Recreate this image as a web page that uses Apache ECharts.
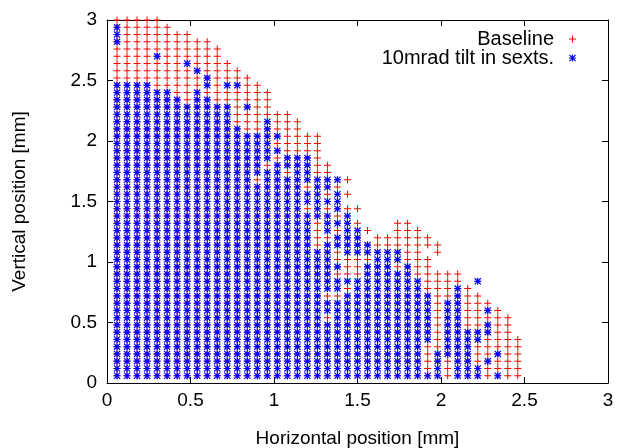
<!DOCTYPE html>
<html>
<head>
<meta charset="utf-8">
<script src="https://cdn.jsdelivr.net/npm/echarts@6/dist/echarts.min.js"></script>
<style>
  html, body { margin: 0; padding: 0; background: #fff; }
  #chart { width: 618px; height: 448px; }
</style>
</head>
<body>
<div id="chart"></div>
<script>
// scan grid (mm)
const xCols = [0.06, 0.12, 0.18, 0.24, 0.30, 0.36, 0.42, 0.48, 0.54, 0.60,
  0.66, 0.72, 0.78, 0.84, 0.90, 0.96, 1.02, 1.08, 1.14, 1.20,
  1.26, 1.32, 1.38, 1.44, 1.50, 1.56, 1.62, 1.68, 1.74, 1.80,
  1.86, 1.92, 1.98, 2.04, 2.10, 2.16, 2.22, 2.28, 2.34, 2.40, 2.46];
const yRows = [0.06, 0.12, 0.18, 0.24, 0.30, 0.36, 0.42, 0.48, 0.54, 0.60,
  0.66, 0.72, 0.78, 0.84, 0.90, 0.96, 1.02, 1.08, 1.14, 1.20,
  1.26, 1.32, 1.38, 1.44, 1.50, 1.56, 1.62, 1.68, 1.74, 1.80,
  1.86, 1.92, 1.98, 2.04, 2.10, 2.16, 2.22, 2.28, 2.34, 2.40,
  2.46, 2.52, 2.58, 2.64, 2.70, 2.76, 2.82, 2.88, 2.94, 3.00];

// surviving rows per column, as [firstRow, lastRow] runs (1 = lowest row)
const baselineRuns = [
  [[1, 50]], [[1, 50]], [[1, 50]], [[1, 50]], [[1, 50]],
  [[1, 49]], [[1, 48]], [[1, 48]], [[1, 47]], [[1, 47]],
  [[1, 46]], [[1, 44]], [[1, 43]], [[1, 42]], [[1, 41]],
  [[1, 40]], [[1, 37]], [[1, 37]], [[1, 36]], [[1, 34]],
  [[1, 34]], [[1, 30]], [[1, 27]], [[1, 24], [26, 26], [28, 28]], [[1, 22], [24, 24]],
  [[1, 19], [21, 21]], [[1, 20]], [[1, 20]], [[1, 22]], [[1, 22]],
  [[1, 21]], [[1, 17], [19, 20]], [[1, 15], [18, 19]], [[1, 15]], [[1, 15]],
  [[1, 13]], [[1, 12]], [[1, 11]], [[1, 10]], [[1, 9]],
  [[1, 6]]
];
const tiltRuns = [
  [[1, 41], [47, 49]], [[1, 41]], [[1, 41]], [[1, 41]], [[1, 40], [45, 45]],
  [[1, 40]], [[1, 39]], [[1, 38], [44, 44]], [[1, 40], [43, 43]], [[1, 39], [41, 42]],
  [[1, 38]], [[1, 38], [41, 41]], [[1, 35], [41, 41]], [[1, 34], [38, 38]], [[1, 27], [29, 34]],
  [[1, 29], [31, 36]], [[1, 30], [32, 32], [34, 34]], [[1, 28], [30, 31]], [[1, 31]], [[1, 23], [25, 26], [28, 31]],
  [[1, 18], [23, 28]],
  [[1, 8], [10, 11], [13, 19], [21, 23], [25, 25], [27, 28]],
  [[1, 11], [13, 14], [16, 16], [19, 20], [22, 22], [24, 26], [28, 28]],
  [[1, 12], [14, 14], [18, 23]], [[1, 14], [18, 21]],
  [[1, 16], [18, 19]], [[1, 18]], [[1, 18]], [[1, 15], [17, 18]], [[1, 16]],
  [[1, 14]], [[1, 1], [6, 12]], [[1, 4]], [[4, 11]], [[1, 13]],
  [[1, 7]], [[1, 2], [6, 7], [14, 14]], [[3, 3], [7, 8], [10, 10]], [[1, 1], [4, 4]], [],
  []
];
const xTicks = [0, 0.5, 1, 1.5, 2, 2.5, 3];
const yTicks = [0, 0.5, 1, 1.5, 2, 2.5, 3];

function toPoints(runs) {
  const pts = [];
  runs.forEach((col, k) => {
    col.forEach(([a, b]) => {
      for (let j = a; j <= b; j++) pts.push([xCols[k], yRows[j - 1]]);
    });
  });
  return pts;
}

const plusPath = 'path://M3,0H4V7H3Z M0,3H7V4H0Z';
// gnuplot style asterisk: plus and cross drawn together
const starPath = 'path://M2.9,0H4.1V7H2.9Z M0,2.9H7V4.1H0Z M0,0.85L0.85,0L7,6.15L6.15,7Z M6.15,0L7,0.85L0.85,7L0,6.15Z';
const font = "'Liberation Sans', Arial, sans-serif";

const chart = echarts.init(document.getElementById('chart'));

function axisCommon(labels) {
  return {
    type: 'value', min: 0, max: 3, interval: 0.5,
    axisLine: { show: true, onZero: false, lineStyle: { color: '#000', width: 1 } },
    axisTick: { show: true, inside: true, length: 6, lineStyle: { color: '#000' } },
    axisLabel: { show: labels, color: '#000', fontSize: 19, fontFamily: font },
    splitLine: { show: false }
  };
}

chart.setOption({
  animation: false,
  backgroundColor: '#fff',
  textStyle: { fontFamily: font },
  grid: { left: 107, right: 10, top: 20, bottom: 65, containLabel: false, outerBoundsMode: 'none' },
  xAxis: [
    Object.assign(axisCommon(true), {
      position: 'bottom', name: 'Horizontal position [mm]', nameLocation: 'middle', nameGap: 46,
      nameTextStyle: { color: '#000', fontSize: 19, fontFamily: font },
      axisLabel: { show: true, color: '#000', fontSize: 19, fontFamily: font, margin: 8,
        hideOverlap: false, alignMinLabel: 'center', alignMaxLabel: 'center',
        formatter: v => String(v) }
    }),
    Object.assign(axisCommon(false), { position: 'top' })
  ],
  yAxis: [
    Object.assign(axisCommon(true), {
      position: 'left', name: 'Vertical position [mm]', nameLocation: 'middle', nameGap: 78,
      nameTextStyle: { color: '#000', fontSize: 19, fontFamily: font },
      axisLabel: { show: true, color: '#000', fontSize: 19, fontFamily: font, margin: 10,
        hideOverlap: false, verticalAlignMinLabel: 'middle', verticalAlignMaxLabel: 'middle',
        formatter: v => String(v) }
    }),
    Object.assign(axisCommon(false), { position: 'right' })
  ],
  legend: [
    { data: ['Baseline'], right: 42, top: 29, padding: 0, align: 'right', itemWidth: 27, itemHeight: 7,
      textStyle: { color: '#000', fontSize: 20, fontFamily: font } },
    { data: ['10mrad tilt in sexts.'], right: 42, top: 48, padding: 0, align: 'right', itemWidth: 27, itemHeight: 7,
      textStyle: { color: '#000', fontSize: 20, fontFamily: font } }
  ],
  series: [
    { name: 'Baseline', type: 'scatter', data: toPoints(baselineRuns), symbol: plusPath, symbolSize: 7,
      itemStyle: { color: '#ff0000', opacity: 1 }, large: false, progressive: 0, clip: false, silent: true },
    { name: '10mrad tilt in sexts.', type: 'scatter', data: toPoints(tiltRuns), symbol: starPath, symbolSize: 7,
      itemStyle: { color: '#0000ff', opacity: 1 }, large: false, progressive: 0, clip: false, silent: true }
  ]
});
</script>
</body>
</html>
